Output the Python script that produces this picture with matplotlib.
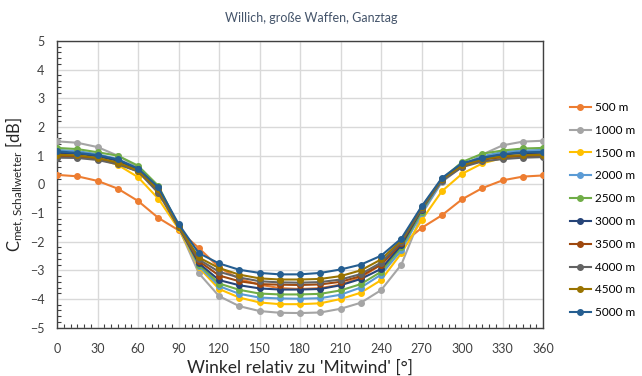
import numpy as np
import matplotlib
matplotlib.use("Agg")
import matplotlib.pyplot as plt
from matplotlib.ticker import MultipleLocator

# Winkel in 15-Grad-Schritten
angles = list(range(0, 361, 15))

labels = ["500 m", "1000 m", "1500 m", "2000 m", "2500 m",
          "3000 m", "3500 m", "4000 m", "4500 m", "5000 m"]

c_500 = [0.33, 0.28, 0.12, -0.15, -0.58, -1.17, -1.60, -2.22, -2.90, -3.30, -3.50, -3.62, -3.65,
         -3.62, -3.50, -3.25, -2.80, -2.10, -1.52, -1.08, -0.52, -0.13, 0.14, 0.27, 0.31]
c_1000 = [1.50, 1.45, 1.30, 1.00, 0.60, -0.20, -1.50, -3.10, -3.90, -4.25, -4.42, -4.48, -4.49,
          -4.47, -4.34, -4.13, -3.69, -2.80, -1.05, 0.08, 0.62, 1.04, 1.36, 1.49, 1.52]
c_1500 = [1.02, 1.00, 0.90, 0.68, 0.25, -0.50, -1.55, -2.90, -3.65, -3.95, -4.12, -4.18, -4.18,
          -4.15, -4.00, -3.78, -3.34, -2.40, -1.25, -0.24, 0.37, 0.73, 0.92, 1.00, 1.02]
c_2000 = [1.20, 1.16, 1.05, 0.88, 0.55, -0.15, -1.48, -2.85, -3.55, -3.82, -3.95, -3.98, -3.99,
          -3.97, -3.85, -3.60, -3.15, -2.30, -1.00, 0.10, 0.68, 0.98, 1.13, 1.18, 1.20]
c_2500 = [1.27, 1.23, 1.12, 1.00, 0.65, -0.05, -1.45, -2.80, -3.46, -3.68, -3.81, -3.84, -3.84,
          -3.82, -3.70, -3.48, -3.05, -2.20, -0.95, 0.18, 0.78, 1.07, 1.18, 1.25, 1.27]
c_3000 = [1.10, 1.07, 0.98, 0.82, 0.52, -0.12, -1.45, -2.75, -3.34, -3.52, -3.63, -3.67, -3.67,
          -3.65, -3.52, -3.30, -2.95, -2.12, -0.88, 0.18, 0.68, 0.93, 1.04, 1.09, 1.10]
c_3500 = [0.98, 0.96, 0.88, 0.73, 0.45, -0.22, -1.50, -2.68, -3.18, -3.38, -3.48, -3.50, -3.51,
          -3.49, -3.40, -3.20, -2.80, -2.05, -0.85, 0.15, 0.62, 0.86, 0.95, 0.98, 0.98]
c_4000 = [0.93, 0.92, 0.85, 0.70, 0.45, -0.30, -1.50, -2.62, -3.05, -3.25, -3.38, -3.42, -3.43,
          -3.41, -3.32, -3.13, -2.73, -2.00, -0.85, 0.12, 0.60, 0.80, 0.88, 0.93, 0.95]
c_4500 = [1.03, 1.01, 0.92, 0.76, 0.48, -0.18, -1.45, -2.55, -2.92, -3.15, -3.28, -3.32, -3.32,
          -3.30, -3.20, -3.00, -2.62, -1.95, -0.80, 0.18, 0.66, 0.88, 0.98, 1.02, 1.03]
c_5000 = [1.15, 1.10, 1.02, 0.87, 0.55, -0.10, -1.38, -2.40, -2.76, -2.98, -3.09, -3.14, -3.14,
          -3.09, -2.97, -2.80, -2.49, -1.89, -0.77, 0.22, 0.74, 0.92, 1.06, 1.12, 1.13]

series = [c_500, c_1000, c_1500, c_2000, c_2500, c_3000, c_3500, c_4000, c_4500, c_5000]
colors = ["#ED7D31", "#A5A5A5", "#FFC000", "#5B9BD5", "#70AD47",
          "#264478", "#9E480E", "#636363", "#997300", "#255E91"]

plt.rcParams["font.family"] = ["Lato", "DejaVu Sans"]
plt.rcParams["mathtext.fontset"] = "custom"
plt.rcParams["mathtext.rm"] = "Lato"
plt.rcParams["mathtext.default"] = "regular"

fig = plt.figure(figsize=(6.42, 3.76), dpi=100)
ax = fig.add_axes([0.0888, 0.1285, 0.7572, 0.7625])

for vals, col, lab in zip(series, colors, labels):
    ax.plot(angles, vals, color=col, lw=1.5, marker="o", markersize=4, label=lab, zorder=3)

ax.set_xlim(0, 360)
ax.set_ylim(-5, 5)
ax.xaxis.set_major_locator(MultipleLocator(30))
ax.xaxis.set_minor_locator(MultipleLocator(5))
ax.yaxis.set_major_locator(MultipleLocator(1))
ax.yaxis.set_minor_locator(MultipleLocator(0.2))
ax.tick_params(which="major", length=0, labelsize=9, colors="#404040")
ax.tick_params(axis="x", which="major", pad=11)
ax.tick_params(axis="y", which="major", pad=9)
ax.tick_params(which="minor", direction="in", length=3, color="#404040", width=0.8)
ax.grid(True, which="major", color="#D9D9D9", lw=1, zorder=0)
for sp in ax.spines.values():
    sp.set_color("#404040")
    sp.set_linewidth(1)

ax.set_xlabel("Winkel relativ zu 'Mitwind' [°]", fontsize=12.5, color="#262626", labelpad=3)
ax.set_ylabel(r"C$_{met,Schallwetter}$ [dB]", fontsize=12, color="#262626", labelpad=3)
fig.text(0.485, 0.952, "Willich, große Waffen, Ganztag", ha="center", va="center",
         fontsize=9, color="#44546A")

ax.legend(loc="center left", bbox_to_anchor=(1.045, 0.41), frameon=False, fontsize=8.5,
          handlelength=1.8, labelspacing=1.0, handletextpad=0.3, borderaxespad=0)

fig.savefig("out.png", dpi=100)
